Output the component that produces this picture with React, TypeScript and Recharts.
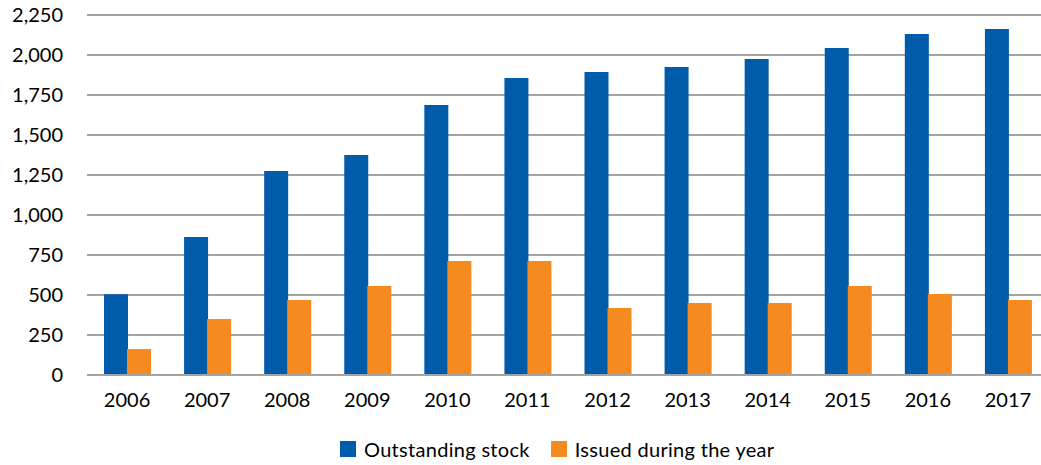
import React from "react";
import { BarChart, Bar, XAxis, YAxis, CartesianGrid, Legend } from "recharts";

const years = ["2006", "2007", "2008", "2009", "2010", "2011", "2012", "2013", "2014", "2015", "2016", "2017"];
const outstandingStock = [505, 862, 1275, 1375, 1687, 1856, 1894, 1925, 1975, 2044, 2131, 2162];
const issuedDuringYear = [162, 350, 469, 556, 712, 712, 419, 450, 450, 556, 506, 469];
const yTicks = [0, 250, 500, 750, 1000, 1250, 1500, 1750, 2000, 2250];

const seriesNames = { stock: "Outstanding stock", issued: "Issued during the year" };
const BLUE = "#005BAA";
const ORANGE = "#F58A1F";
const FONT = "Lato, 'Open Sans', sans-serif";

const data = years.map((y, i) => ({
  year: y,
  stock: outstandingStock[i],
  issued: issuedDuringYear[i],
}));

const fmt = (v: number) => v.toLocaleString("en-US");

const LegendContent = () => (
  <div
    style={{
      display: "flex",
      alignItems: "center",
      paddingLeft: 340,
      paddingTop: 24,
      fontFamily: FONT,
      fontSize: 20,
      color: "#000",
      lineHeight: "20px",
    }}
  >
    <span style={{ width: 16, height: 16, background: BLUE, display: "inline-block" }} />
    <span style={{ marginLeft: 8, letterSpacing: 0.3 }}>{seriesNames.stock}</span>
    <span style={{ width: 16, height: 16, background: ORANGE, display: "inline-block", marginLeft: 21 }} />
    <span style={{ marginLeft: 8, letterSpacing: 0.3 }}>{seriesNames.issued}</span>
  </div>
);

export default function App() {
  return (
    <div style={{ position: "absolute", left: 0, top: 0, width: 1041, height: 465, overflow: "hidden", background: "#fff" }}>
      <BarChart
        width={1048}
        height={465}
        data={data}
        margin={{ top: 15, right: 0, left: 0, bottom: 2 }}
        barSize={24}
        barGap={-1}
      >
        <CartesianGrid vertical={false} stroke="#a3a3a3" strokeWidth={2} />
        <XAxis
          dataKey="year"
          tickLine={false}
          axisLine={{ stroke: "#a3a3a3", strokeWidth: 2 }}
          tickSize={0}
          tickMargin={18}
          height={40}
          tick={{ fill: "#000", fontSize: 20, fontFamily: FONT }}
          interval={0}
        />
        <YAxis
          domain={[0, 2250]}
          ticks={yTicks}
          tickFormatter={fmt}
          tickLine={false}
          axisLine={false}
          tickSize={0}
          tickMargin={24}
          width={87}
          tick={{ fill: "#000", fontSize: 20, fontFamily: FONT }}
          interval={0}
        />
        <Legend verticalAlign="bottom" height={48} content={<LegendContent />} />
        <Bar dataKey="stock" name={seriesNames.stock} fill={BLUE} isAnimationActive={false} />
        <Bar dataKey="issued" name={seriesNames.issued} fill={ORANGE} isAnimationActive={false} />
      </BarChart>
    </div>
  );
}
